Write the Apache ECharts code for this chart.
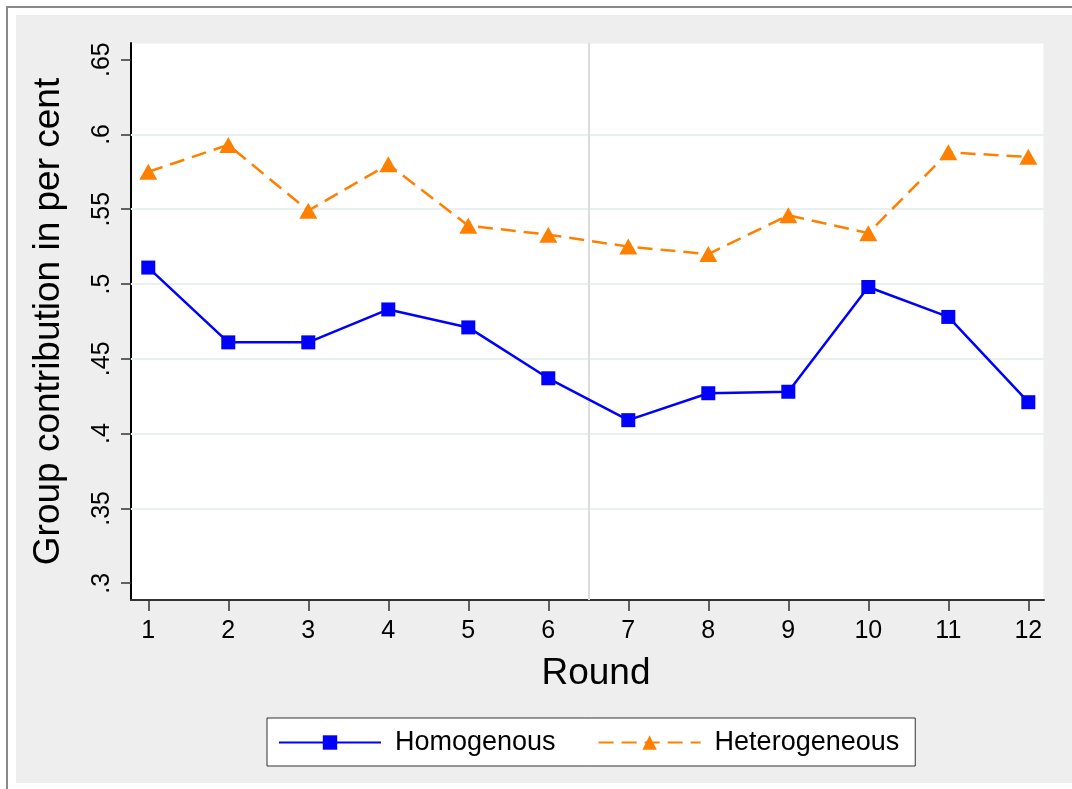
<!DOCTYPE html>
<html>
<head>
<meta charset="utf-8">
<script src="https://cdn.jsdelivr.net/npm/echarts@6.0.0/dist/echarts.min.js"></script>
<style>
  body { margin: 0; background: #fff; }
  #frame { position: absolute; left: 6px; top: 6px; width: 1200px; height: 1200px; border: 2px solid #888; box-sizing: border-box; }
  #bg { position: absolute; left: 16px; top: 15px; width: 1100px; height: 768px; background: #eeeeee; }
  #main { position: absolute; left: 0; top: 0; width: 1072px; height: 789px; }
</style>
</head>
<body>
<div id="frame"></div>
<div id="bg"></div>
<div id="main"></div>
<script>
var rounds = [1, 2, 3, 4, 5, 6, 7, 8, 9, 10, 11, 12];
var homogenous = [0.511, 0.461, 0.461, 0.483, 0.471, 0.437, 0.409, 0.427, 0.428, 0.498, 0.478, 0.421];
var heterogeneous = [0.575, 0.593, 0.549, 0.580, 0.539, 0.533, 0.525, 0.520, 0.546, 0.534, 0.588, 0.585];
var yTicks = [0.3, 0.35, 0.4, 0.45, 0.5, 0.55, 0.6, 0.65];
var xTicks = [1, 2, 3, 4, 5, 6, 7, 8, 9, 10, 11, 12];
var breakRound = 6.5; // vertical separator between round 6 and 7

var font = "'Liberation Sans', Arial, Helvetica, sans-serif";

function pairs(ys) {
    return rounds.map(function (r, i) { return [r, ys[i]]; });
}

var myChart = echarts.init(document.getElementById("main"));
var option = {
    backgroundColor: 'transparent',
    animation: false,
    textStyle: { fontFamily: font },
    grid: {
        left: 131, right: 28, top: 43, bottom: 189,
        show: true,
        backgroundColor: '#fff',
        borderColor: '#e6eef0',
        borderWidth: 1
    },
    xAxis: {
        type: 'value',
        min: 0.784,
        max: 12.196,
        name: 'Round',
        nameLocation: 'middle',
        nameGap: 55,
        nameTextStyle: { fontSize: 37, color: '#000', fontFamily: font, padding: [0, 0, 0, 17] },
        axisLine: { onZero: false, lineStyle: { color: '#333', width: 2 } },
        axisTick: { customValues: xTicks, length: 11, lineStyle: { color: '#333', width: 1.5 } },
        axisLabel: { customValues: xTicks, fontSize: 25, color: '#000', margin: 19, fontFamily: font },
        splitLine: { show: false }
    },
    yAxis: {
        type: 'value',
        min: 0.2888,
        max: 0.6611,
        name: 'Group contribution in per cent',
        nameLocation: 'middle',
        nameGap: 64,
        nameTextStyle: { fontSize: 37, color: '#000', fontFamily: font },
        axisLine: { show: true, lineStyle: { color: '#000', width: 2 } },
        axisTick: { show: true, customValues: yTicks, length: 10, lineStyle: { color: '#333', width: 1.5 } },
        axisLabel: {
            customValues: yTicks,
            rotate: 90,
            fontSize: 25,
            color: '#000',
            margin: 16,
            fontFamily: font,
            formatter: function (v) { return String(+v.toFixed(2)).replace(/^0\./, '.'); }
        },
        splitLine: { show: false }
    },
    legend: {
        left: 267,
        top: 718,
        orient: 'horizontal',
        backgroundColor: '#fff',
        borderColor: '#333',
        borderWidth: 1,
        borderRadius: 0,
        padding: [11, 16, 10, 11],
        itemWidth: 102,
        itemHeight: 18,
        itemGap: 42,
        textStyle: { fontSize: 27, color: '#000', fontFamily: font, padding: [0, 0, 0, 9] },
        data: ['Homogenous', 'Heterogeneous']
    },
    series: [{
        name: 'gridlines',
        type: 'line',
        data: [],
        silent: true,
        markLine: {
            silent: true,
            symbol: 'none',
            label: { show: false },
            lineStyle: { color: '#e8f0f2', width: 2, type: 'solid' },
            data: yTicks.slice(1, -1).map(function (v) { return { yAxis: v }; })
                .concat([{ xAxis: breakRound, lineStyle: { color: '#dcdcdc', width: 2 } }])
        }
    }, {
        name: 'Homogenous',
        type: 'line',
        data: pairs(homogenous),
        symbol: 'rect',
        symbolSize: 14,
        color: '#0000ff',
        lineStyle: { color: '#0000ff', width: 2.5 },
        itemStyle: { color: '#0000ff' },
        z: 5
    }, {
        name: 'Heterogeneous',
        type: 'line',
        data: pairs(heterogeneous),
        symbol: 'triangle',
        symbolSize: [18, 16],
        color: '#ff8000',
        lineStyle: { color: '#ff8000', width: 2.5, type: [15, 8] },
        itemStyle: { color: '#ff8000' },
        z: 5
    }]
};
myChart.setOption(option);
</script>
</body>
</html>
